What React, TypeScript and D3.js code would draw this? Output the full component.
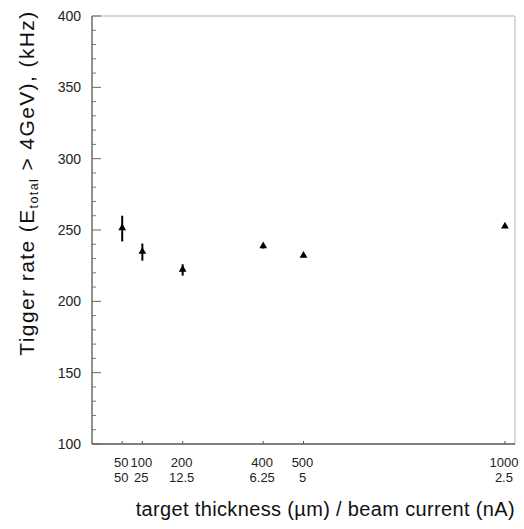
import React from "react";
import * as d3 from "d3";

const thickness = [50, 100, 200, 400, 500, 1000];
const current = ["50", "25", "12.5", "6.25", "5", "2.5"];
const rate = [251, 234.5, 222, 238.5, 231.8, 252.3];
const rateErr = [9, 6, 4, 1.5, 1, 1];
const yMajor = [100, 150, 200, 250, 300, 350, 400];

const W = 524, H = 529;
const L = 92, R = 515, T = 16, B = 444;

export default function App() {
  const x = d3.scaleLinear().domain([-25, 1025]).range([L, R]);
  const y = d3.scaleLinear().domain([100, 400]).range([B, T]);
  const yMinor = d3.range(100, 401, 10).filter((v) => v % 50 !== 0);
  const tri = d3.symbol().type(d3.symbolTriangle).size(26)()!;
  const font = "Liberation Sans, Arial, Helvetica, sans-serif";
  return (
    <svg width={W} height={H} style={{ position: "absolute", left: 0, top: 0 }} fontFamily={font}>
      <rect width={W} height={H} fill="#fff" />
      {/* frame */}
      <line x1={L} x2={R} y1={T} y2={T} stroke="#d8d8d8" strokeWidth={2} />
      <line x1={R} x2={R} y1={T} y2={B} stroke="#d8d8d8" strokeWidth={2} />
      <line x1={L} x2={L} y1={T} y2={B} stroke="#555" strokeWidth={1.3} />
      <line x1={L} x2={R} y1={B} y2={B} stroke="#555" strokeWidth={1.3} />
      {/* y ticks */}
      {yMajor.map((v) => (
        <g key={"ym" + v}>
          <line x1={L} x2={L + 9} y1={y(v)} y2={y(v)} stroke="#666" />
          <text x={81} y={y(v)} dy="0.35em" textAnchor="end" fontSize={14} fill="#222">
            {v}
          </text>
        </g>
      ))}
      {yMinor.map((v) => (
        <line key={"yn" + v} x1={L} x2={L + 4} y1={y(v)} y2={y(v)} stroke="#777" />
      ))}
      {/* x ticks */}
      {thickness.map((v, i) => (
        <g key={"x" + v}>
          <line x1={x(v)} x2={x(v)} y1={B} y2={B - 3} stroke="#555" />
          <text x={x(v) - 1} y={467} textAnchor="middle" fontSize={13} fill="#222">
            {v}
          </text>
          <text x={x(v) - 1} y={482} textAnchor="middle" fontSize={13} fill="#222">
            {current[i]}
          </text>
        </g>
      ))}
      {/* data */}
      {thickness.map((v, i) => (
        <g key={"p" + v}>
          <line
            x1={x(v)}
            x2={x(v)}
            y1={y(rate[i] - rateErr[i])}
            y2={y(rate[i] + rateErr[i])}
            stroke="#000"
            strokeWidth={2}
          />
          <path d={tri} transform={`translate(${x(v)},${y(rate[i]) - 0.5})`} fill="#000" />
        </g>
      ))}
      {/* axis titles */}
      <text x={R} y={516} textAnchor="end" fontSize={20} letterSpacing={0.35} fill="#111">
        target thickness (µm) / beam current (nA)
      </text>
      <text
        transform={`translate(34,183) rotate(-90)`}
        textAnchor="middle"
        fontSize={21}
        letterSpacing={1.4}
        fill="#111"
      >
        Tigger rate (E
        <tspan fontSize={12.5} dy={4}>total</tspan>
        <tspan dy={-4}> &gt; 4GeV), (kHz)</tspan>
      </text>
    </svg>
  );
}
